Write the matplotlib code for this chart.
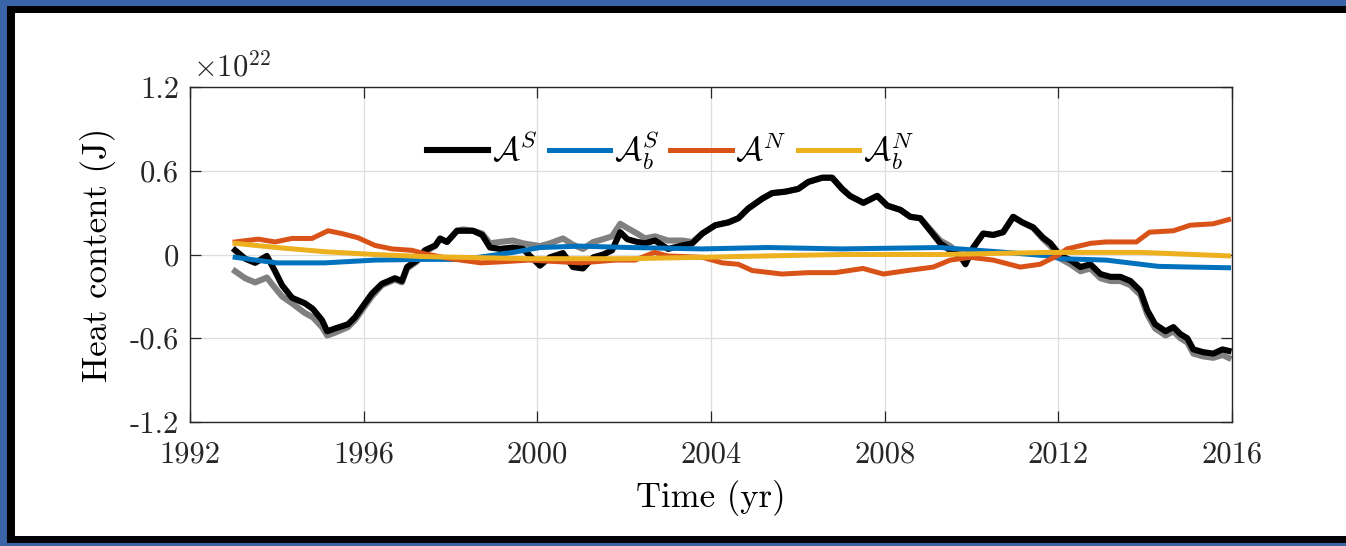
import matplotlib
matplotlib.use('Agg')
import matplotlib.pyplot as plt
import numpy as np
from matplotlib.patches import Rectangle

plt.rcParams['font.family'] = 'serif'
plt.rcParams['font.serif'] = ['cmr10']
plt.rcParams['mathtext.fontset'] = 'cm'
plt.rcParams['axes.unicode_minus'] = False

# A^S (black) and its grey companion, units of 1e22 J
t_s = [1993.04, 1993.27, 1993.50, 1993.77, 1993.96, 1994.12, 1994.35, 1994.65, 1994.83,
       1995.04, 1995.16, 1995.34, 1995.64, 1995.80, 1995.96, 1996.19, 1996.42, 1996.72,
       1996.88, 1997.00, 1997.23, 1997.41, 1997.65, 1997.76, 1997.92, 1998.15, 1998.29,
       1998.52, 1998.73, 1998.91, 1999.14, 1999.44, 1999.67, 2000.06, 2000.29, 2000.59,
       2000.82, 2001.05, 2001.29, 2001.52, 2001.72, 2001.91, 2002.07, 2002.30, 2002.48,
       2002.71, 2003.01, 2003.34, 2003.57, 2003.80, 2004.10, 2004.40, 2004.63, 2004.86,
       2005.18, 2005.41, 2005.71, 2006.01, 2006.24, 2006.56, 2006.79, 2007.02, 2007.20,
       2007.51, 2007.83, 2008.06, 2008.36, 2008.59, 2008.82, 2009.05, 2009.28, 2009.51,
       2009.74, 2009.86, 2010.04, 2010.27, 2010.50, 2010.73, 2010.96, 2011.17, 2011.42,
       2011.65, 2011.82, 2012.05, 2012.28, 2012.51, 2012.74, 2012.97, 2013.20, 2013.43,
       2013.66, 2013.89, 2014.05, 2014.23, 2014.47, 2014.65, 2014.81, 2014.97, 2015.11,
       2015.34, 2015.57, 2015.78, 2015.92]
a_s = [0.03, -0.03, -0.06, -0.01, -0.12, -0.22, -0.31, -0.35, -0.39,
       -0.47, -0.55, -0.53, -0.50, -0.45, -0.38, -0.28, -0.21, -0.17,
       -0.19, -0.09, -0.04, 0.03, 0.065, 0.115, 0.09, 0.17, 0.17,
       0.17, 0.14, 0.05, 0.04, 0.05, 0.04, -0.08, -0.02, 0.01,
       -0.09, -0.10, -0.02, 0.00, 0.03, 0.16, 0.11, 0.09, 0.08,
       0.10, 0.04, 0.065, 0.08, 0.15, 0.21, 0.23, 0.26, 0.33,
       0.40, 0.44, 0.45, 0.47, 0.52, 0.55, 0.55, 0.47, 0.42,
       0.37, 0.42, 0.35, 0.32, 0.27, 0.26, 0.17, 0.08, 0.03,
       -0.01, -0.07, 0.05, 0.15, 0.14, 0.16, 0.27, 0.23, 0.195,
       0.12, 0.08, -0.01, -0.04, -0.09, -0.07, -0.14, -0.16, -0.16,
       -0.19, -0.26, -0.40, -0.50, -0.55, -0.52, -0.57, -0.60, -0.68,
       -0.70, -0.71, -0.68, -0.69]
a_s_grey = [-0.12, -0.17, -0.20, -0.165, -0.24, -0.30, -0.35, -0.42, -0.45,
            -0.52, -0.58, -0.56, -0.52, -0.47, -0.40, -0.30, -0.22, -0.18,
            -0.20, -0.10, -0.05, 0.02, 0.06, 0.11, 0.09, 0.17, 0.18,
            0.17, 0.15, 0.08, 0.09, 0.10, 0.08, 0.06, 0.08, 0.115,
            0.07, 0.04, 0.09, 0.11, 0.13, 0.22, 0.19, 0.15, 0.115,
            0.13, 0.10, 0.10, 0.09, 0.15, 0.21, 0.23, 0.26, 0.33,
            0.40, 0.44, 0.45, 0.47, 0.52, 0.55, 0.55, 0.47, 0.42,
            0.37, 0.42, 0.35, 0.32, 0.27, 0.26, 0.18, 0.10, 0.06,
            0.00, -0.06, 0.05, 0.15, 0.14, 0.16, 0.27, 0.23, 0.19,
            0.11, 0.06, -0.03, -0.07, -0.12, -0.10, -0.17, -0.19, -0.19,
            -0.22, -0.29, -0.43, -0.53, -0.58, -0.55, -0.60, -0.63, -0.71,
            -0.73, -0.74, -0.72, -0.74]

# A_b^S (blue)
t_bs = [1993.04, 1994.00, 1995.10, 1996.26, 1997.40, 1998.30, 1999.44, 2000.06, 2000.98,
        2002.14, 2003.80, 2005.30, 2007.00, 2009.28, 2010.80, 2011.75, 2012.05, 2013.10,
        2014.30, 2015.04, 2015.92]
a_bs = [-0.02, -0.06, -0.06, -0.04, -0.035, -0.035, 0.015, 0.05, 0.06,
        0.05, 0.04, 0.05, 0.04, 0.05, 0.015, -0.01, -0.03, -0.04,
        -0.085, -0.09, -0.095]

# A^N (orange)
t_n = [1993.04, 1993.57, 1993.96, 1994.35, 1994.81, 1995.18, 1995.50, 1995.87, 1996.26,
       1996.65, 1997.11, 1997.41, 1998.00, 1998.70, 1999.30, 1999.80, 2000.40, 2001.00,
       2001.80, 2002.25, 2002.70, 2003.00, 2003.80, 2004.26, 2004.63, 2004.95, 2005.64,
       2006.24, 2006.86, 2007.50, 2007.97, 2008.52, 2009.12, 2009.51, 2009.97, 2010.50,
       2011.12, 2011.58, 2011.97, 2012.20, 2012.74, 2013.10, 2013.80, 2014.10, 2014.65,
       2015.04, 2015.57, 2015.92]
a_n = [0.09, 0.11, 0.09, 0.115, 0.115, 0.17, 0.15, 0.12, 0.065,
       0.04, 0.03, 0.005, -0.03, -0.06, -0.05, -0.04, -0.05, -0.06,
       -0.04, -0.04, 0.015, -0.01, -0.02, -0.06, -0.07, -0.115, -0.14,
       -0.13, -0.13, -0.10, -0.14, -0.115, -0.09, -0.04, -0.02, -0.04,
       -0.09, -0.07, -0.01, 0.04, 0.08, 0.09, 0.09, 0.16, 0.17,
       0.21, 0.22, 0.25]

# A_b^N (yellow)
t_bn = [1993.04, 1994.00, 1995.10, 1996.26, 1997.40, 1999.80, 2002.10, 2003.80, 2005.30,
        2007.00, 2009.30, 2011.75, 2013.90, 2015.92]
a_bn = [0.08, 0.05, 0.02, 0.00, -0.015, -0.03, -0.03, -0.02, -0.01,
        0.00, 0.00, 0.015, 0.015, -0.01]

xticks = [1992, 1996, 2000, 2004, 2008, 2012, 2016]
yticks = [-1.2, -0.6, 0, 0.6, 1.2]
ylabels = ['-1.2', '-0.6', '0', '0.6', '1.2']

W, H = 1346, 546
fig = plt.figure(figsize=(13.46, 5.46), dpi=100)
fig.patch.set_facecolor('white')


def strip(x0, y0, x1, y1, c):
    # rectangle given in image pixels (origin top-left)
    fig.patches.append(Rectangle((x0 / W, 1 - y1 / H), (x1 - x0) / W, (y1 - y0) / H,
                                 transform=fig.transFigure, facecolor=c,
                                 edgecolor='none', zorder=-1))


blue = '#3b64a8'
strip(0, 0, 7, H, blue)
strip(0, 0, W, 6, blue)
strip(0, 543, W, H, blue)
strip(7, 6, 15, 543, 'black')
strip(7, 6, W, 13, 'black')
strip(7, 536, W, 543, 'black')

ax = fig.add_axes([190/1346, 124/546, 1042/1346, 335/546])
ax.set_facecolor('white')

ax.plot(t_s, a_s_grey, color='#808080', lw=4.4, solid_joinstyle='round')
ax.plot(t_s, a_s, color='black', lw=4.4, label=r'$\mathcal{A}^S$', solid_joinstyle='round')
ax.plot(t_bs, a_bs, color='#0072BD', lw=3.6, label=r'$\mathcal{A}_b^S$')
ax.plot(t_n, a_n, color='#D95319', lw=3.6, label=r'$\mathcal{A}^N$')
ax.plot(t_bn, a_bn, color='#EDB120', lw=3.6, label=r'$\mathcal{A}_b^N$')

ax.set_xlim(1992, 2016)
ax.set_ylim(-1.2, 1.2)
ax.set_xticks(xticks)
ax.set_yticks(yticks)
ax.set_yticklabels(ylabels)
ax.tick_params(direction='in', length=8, width=0.9, top=True, right=True,
               labelsize=22, colors='#262626')
ax.tick_params(axis='x', pad=14)
ax.tick_params(axis='y', pad=8)
ax.grid(True, color='#dedede', lw=0.9)
ax.set_axisbelow(True)
for sp in ax.spines.values():
    sp.set_color('#262626')
    sp.set_linewidth(1.0)

ax.set_xlabel('Time (yr)', fontsize=25, labelpad=8)
ax.set_ylabel('Heat content (J)', fontsize=25, labelpad=10)
ax.text(0.003, 1.015, r'$\times10^{22}$', transform=ax.transAxes, fontsize=22,
        ha='left', va='bottom', color='#262626')

ax.legend(loc='center', bbox_to_anchor=(0.4607, 0.81), ncol=4, frameon=False,
          fontsize=24, handlelength=1.85, handletextpad=0.1, columnspacing=0.35)

plt.savefig('out.png', dpi=100, facecolor=fig.get_facecolor())
